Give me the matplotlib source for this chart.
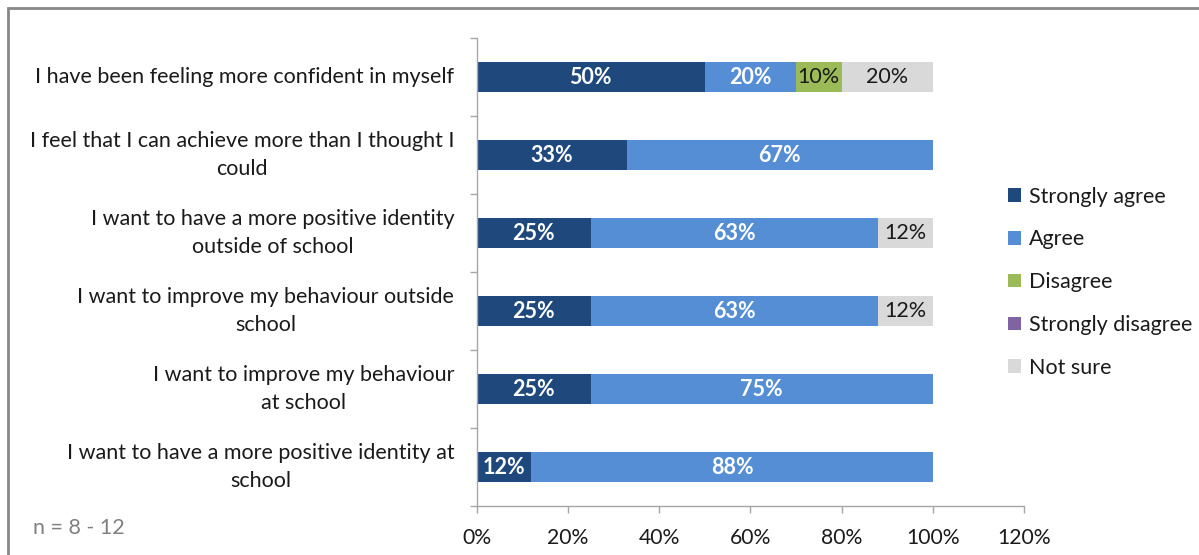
import matplotlib
matplotlib.use("Agg")
import matplotlib.pyplot as plt
from matplotlib.patches import Rectangle
import numpy as np

plt.rcParams['font.family'] = ['Lato', 'DejaVu Sans']

categories = [
    "I have been feeling more confident in myself",
    "I feel that I can achieve more than I thought I\ncould",
    "I want to have a more positive identity\noutside of school",
    "I want to improve my behaviour outside\nschool",
    "I want to improve my behaviour\nat school",
    "I want to have a more positive identity at\nschool",
]
series_names = ["Strongly agree", "Agree", "Disagree", "Strongly disagree", "Not sure"]
strongly_agree = [50, 33, 25, 25, 25, 12]
agree = [20, 67, 63, 63, 75, 88]
disagree = [10, 0, 0, 0, 0, 0]
strongly_disagree = [0, 0, 0, 0, 0, 0]
not_sure = [20, 0, 12, 12, 0, 0]
x_ticks = [0, 20, 40, 60, 80, 100, 120]
note = "n = 8 - 12"

series = [strongly_agree, agree, disagree, strongly_disagree, not_sure]
colors = ["#1F497D", "#558ED5", "#9BBB59", "#8064A2", "#D9D9D9"]
label_styles = [("white", "bold"), ("white", "bold"), ("#1a1a1a", "normal"),
                ("white", "bold"), ("#1a1a1a", "normal")]

FS = 15.5
W, H = 1199, 555
fig = plt.figure(figsize=(W / 100, H / 100), dpi=100)
ax = fig.add_axes([476.5 / W, 1 - 506 / H, (1024 - 476.5) / W, (506 - 38) / H])

y = np.arange(len(categories))
left = np.zeros(len(categories))
for vals, name, col, (tcol, tw) in zip(series, series_names, colors, label_styles):
    vals = np.array(vals, dtype=float)
    bars = ax.barh(y, vals, left=left, height=0.39, color=col, label=name, linewidth=0)
    for b, v in zip(bars, vals):
        if v > 0:
            ax.text(b.get_x() + b.get_width() / 2, b.get_y() + b.get_height() / 2,
                    f"{v:.0f}%", ha="center", va="center", color=tcol,
                    fontweight=tw, fontsize=FS)
    left += vals

ax.set_xlim(0, 120)
ax.set_ylim(len(categories) - 0.5, -0.5)

ax.set_xticks(x_ticks)
ax.set_xticklabels([f"{t}%" for t in x_ticks], fontsize=FS - 0.3, color="#1a1a1a")
ax.tick_params(axis="x", length=5, width=1, color="#a6a6a6", pad=11)

ax.set_yticks(np.arange(-0.5, len(categories), 1.0))
ax.set_yticklabels([])
ax.set_yticks(y, minor=True)
ax.set_yticklabels(categories, minor=True, fontsize=FS, color="#1a1a1a",
                   multialignment="center", linespacing=1.5, va="center")
ax.tick_params(axis="y", which="major", length=5, width=1, color="#a6a6a6")
ax.tick_params(axis="y", which="minor", length=0, pad=16)

for s in ["top", "right"]:
    ax.spines[s].set_visible(False)
for s in ["left", "bottom"]:
    ax.spines[s].set_color("#a6a6a6")
    ax.spines[s].set_linewidth(1)

leg = fig.legend(loc="upper left", bbox_to_anchor=(999 / W, 1 - 178 / H),
                 frameon=False, fontsize=FS, handlelength=0.6, handleheight=0.6,
                 handletextpad=0.4, labelspacing=1.06, borderaxespad=0)
for t in leg.get_texts():
    t.set_color("#1a1a1a")

fig.text(33 / W, 1 - 528 / H, note, fontsize=FS, color="#808080", va="center", ha="left")

fig.patches.append(Rectangle((8 / W, -0.1), 1.2, 1 - 8 / H + 0.1, transform=fig.transFigure,
                             fill=False, edgecolor="#888888", linewidth=2))

fig.savefig("out.png", dpi=100)
